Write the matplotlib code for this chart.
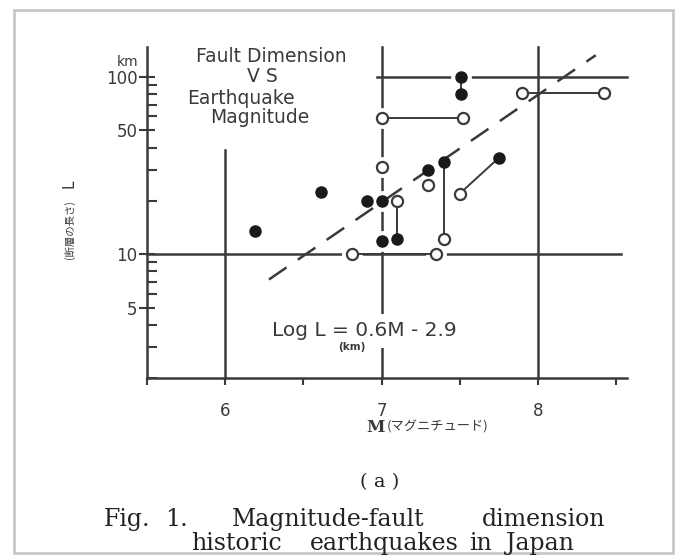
import matplotlib
matplotlib.use("Agg")
import matplotlib.pyplot as plt
from matplotlib.ticker import FixedLocator, NullFormatter
from matplotlib.patches import Rectangle

# ---------------- data ----------------
filled_M = [6.19, 6.61, 6.91, 7.00, 7.00, 7.10, 7.30, 7.40, 7.51, 7.51, 7.75]
filled_L = [13.5, 22.4, 20.0, 20.0, 11.8, 12.2, 30.0, 33.0, 100.0, 80.0, 35.0]

open_M = [6.81, 7.00, 7.00, 7.10, 7.30, 7.35, 7.40, 7.50, 7.52, 7.90, 8.42]
open_L = [10.0, 59.0, 31.0, 20.0, 24.5, 10.0, 12.2, 22.0, 59.0, 81.0, 81.0]

# connections between points: (kind, index) -> (kind, index)
links = [
    (("f", 8), ("f", 9)),
    (("o", 1), ("o", 8)),
    (("o", 3), ("f", 5)),
    (("f", 7), ("o", 6)),
    (("o", 7), ("f", 10)),
    (("o", 9), ("o", 10)),
    (("o", 0), ("o", 5)),
]

# regression line Log L = 0.6M - 2.9 (end points)
fit_M = [6.28, 8.37]
fit_L = [7.2, 133.0]

# reference (cross) lines
vref_M = [6.0, 7.0, 8.0]
vref_Lrange = [(2.0, 39.0), (2.0, 148.0), (2.0, 148.0)]
href_L = [10.0, 100.0]
href_Mrange = [(5.5, 8.53), (6.97, 8.57)]

x_major = [6, 7, 8]
x_minor = [5.5, 6.5, 7.5, 8.5]
y_major = [5, 10, 50, 100]
y_major_labels = ["5", "10", "50", "100"]
y_minor = [2, 3, 4, 6, 7, 8, 9, 20, 30, 40, 60, 70, 80, 90]

title_lines = ["Fault Dimension", "V S", "Earthquake", "Magnitude"]
caption_1 = ["Fig.", "1.", "Magnitude-fault", "dimension"]
caption_2 = ["historic", "earthquakes", "in", "Japan"]

# ---------------- figure ----------------
W, H = 675, 557
fig = plt.figure(figsize=(W / 100, H / 100), dpi=100)
fig.patch.set_facecolor("white")


def fx(x):
    return x / W


def fy(y):
    return 1 - y / H


ink = "#3a3a3a"

# outer frame
fig.patches.append(Rectangle((fx(14), fy(553)), fx(673) - fx(14), fy(10) - fy(553),
                             transform=fig.transFigure, fill=False,
                             edgecolor="#c8c8c8", linewidth=2))

ax = fig.add_axes([fx(147), fy(378), (627 - 147) / W, (378 - 47) / H])
ax.set_xlim(5.5, 8.57)
ax.set_yscale("log")
ax.set_ylim(2, 148)
ax.set_facecolor("none")
for s in ("top", "right"):
    ax.spines[s].set_visible(False)
for s in ("left", "bottom"):
    ax.spines[s].set_color(ink)
    ax.spines[s].set_linewidth(1.8)

ax.xaxis.set_major_locator(FixedLocator(x_major))
ax.xaxis.set_minor_locator(FixedLocator(x_minor))
ax.xaxis.set_minor_formatter(NullFormatter())
ax.set_xticklabels([str(v) for v in x_major])
ax.yaxis.set_major_locator(FixedLocator(y_major))
ax.yaxis.set_minor_locator(FixedLocator(y_minor))
ax.yaxis.set_minor_formatter(NullFormatter())
ax.set_yticklabels(y_major_labels)

ax.tick_params(axis="x", which="both", direction="out", length=5, width=1.5,
               color=ink, pad=12, labelsize=12, labelcolor=ink)
ax.tick_params(axis="y", which="major", direction="inout", length=12, width=1.5,
               color=ink, pad=1, labelsize=12, labelcolor=ink)
ax.tick_params(axis="y", which="minor", direction="in", length=7, width=1.5, color=ink)

# reference cross lines
for m, (l0, l1) in zip(vref_M, vref_Lrange):
    ax.plot([m, m], [l0, l1], color=ink, lw=1.8, zorder=1, clip_on=False)
for l, (m0, m1) in zip(href_L, href_Mrange):
    ax.plot([m0, m1], [l, l], color=ink, lw=1.8, zorder=1, clip_on=False)

# white halos to break reference lines around the points
ax.plot(filled_M + open_M, filled_L + open_L, "o", ms=15, color="white",
        mec="none", zorder=2, clip_on=False)

# regression line
ax.plot(fit_M, fit_L, color=ink, lw=1.8, dashes=(8.5, 5.5), zorder=3, clip_on=False)


def pt(p):
    kind, i = p
    return (filled_M[i], filled_L[i]) if kind == "f" else (open_M[i], open_L[i])


for a, b in links:
    (m0, l0), (m1, l1) = pt(a), pt(b)
    ax.plot([m0, m1], [l0, l1], color=ink, lw=1.4, zorder=3)

ax.plot(filled_M, filled_L, "o", ms=8, color="#1a1a1a", mec="#1a1a1a", zorder=5)
ax.plot(open_M, open_L, "o", ms=8, mfc="white", mec=ink, mew=1.6, zorder=5)

# text inside plot
fig.text(fx(272), fy(331), "Log L = 0.6M - 2.9", fontsize=14.5, color=ink,
         va="center", ha="left", zorder=6,
         bbox=dict(boxstyle="square,pad=0.35", fc="white", ec="none"))
fig.text(fx(352), fy(347), "(km)", fontsize=7.5, color=ink, ha="center",
         va="center", fontweight="bold", zorder=7)

title_x = [271, 262, 241, 260]
title_y = [57, 77, 98, 118]
for t, x, y in zip(title_lines, title_x, title_y):
    fig.text(fx(x), fy(y), t, fontsize=13.5, color=ink, ha="center", va="center")

fig.text(fx(128), fy(62), "km", fontsize=10, color=ink, ha="center", va="center")

# y label
fig.text(fx(69), fy(184), "L", fontsize=11, color=ink, ha="center", va="center",
         rotation=90)
fig.text(fx(69), fy(230), "(断層の長さ)", fontsize=7.5, color=ink, ha="center",
         va="center", rotation=90, family=["Noto Sans CJK JP", "DejaVu Sans"])

# x label
fig.text(fx(366), fy(428), "M", fontsize=12, color=ink, ha="left", va="center",
         family="DejaVu Serif", fontweight="bold")
fig.text(fx(387), fy(427), "(マグニチュード)", fontsize=9.5, color=ink, ha="left",
         va="center", family=["Noto Sans CJK JP", "DejaVu Sans"])

# captions
cap_col = "#222222"
fig.text(fx(380), fy(482), "( a )", fontsize=14, color=cap_col, ha="center",
         va="center", family="DejaVu Serif")
cap1_x = [104, 165, 232, 482]
cap2_x = [191, 310, 469, 506]
for w, x in zip(caption_1, cap1_x):
    fig.text(fx(x), fy(526), w, fontsize=17, color=cap_col, ha="left",
             va="baseline", family="DejaVu Serif")
for w, x in zip(caption_2, cap2_x):
    fig.text(fx(x), fy(550), w, fontsize=17, color=cap_col, ha="left",
             va="baseline", family="DejaVu Serif")

fig.savefig("out.png", dpi=100, facecolor="white")
